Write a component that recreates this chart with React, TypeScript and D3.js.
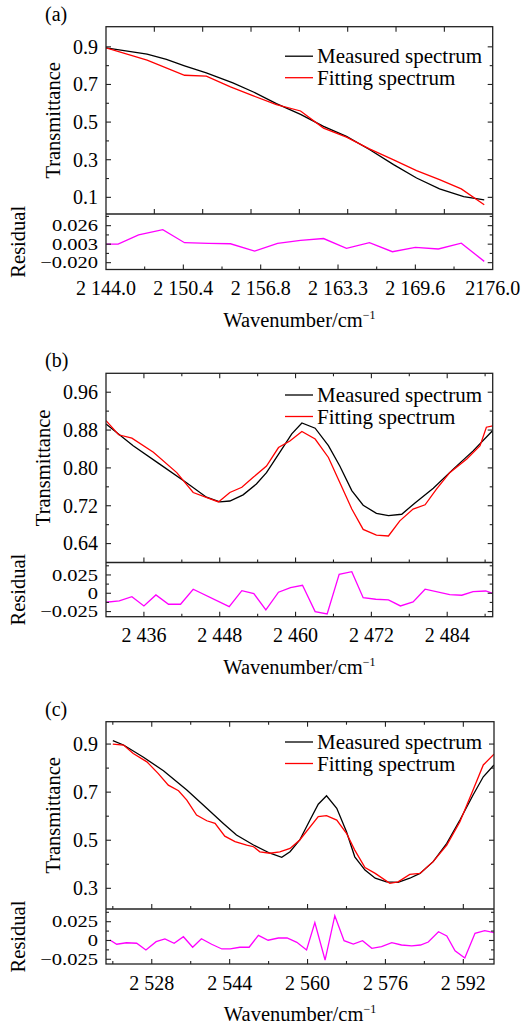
import React from "react";
import * as d3 from "d3";

// ---------------- Panel (a) data ----------------
const measuredAX = [2144.0, 2147.4, 2149.0, 2150.5, 2152.3, 2154.5, 2156.2, 2158.1, 2160.1, 2162.0, 2163.9, 2165.8, 2167.8, 2169.7, 2171.6, 2173.6, 2175.3];
const measuredAY = [0.895, 0.861, 0.833, 0.799, 0.761, 0.708, 0.66, 0.598, 0.541, 0.477, 0.424, 0.354, 0.274, 0.203, 0.145, 0.104, 0.086];
const fittingAX = [2144.0, 2147.4, 2150.5, 2152.3, 2154.3, 2156.2, 2158.1, 2160.1, 2162.0, 2163.9, 2165.8, 2167.8, 2169.7, 2171.6, 2173.4, 2175.3];
const fittingAY = [0.895, 0.829, 0.749, 0.744, 0.687, 0.639, 0.593, 0.559, 0.468, 0.42, 0.358, 0.299, 0.242, 0.194, 0.145, 0.061];
const residualAX = [2144.0, 2145.0, 2146.7, 2148.7, 2150.5, 2152.5, 2154.3, 2156.3, 2158.2, 2160.1, 2162.0, 2163.9, 2165.8, 2167.7, 2169.6, 2171.5, 2173.4, 2175.3];
const residualAY = [0.003, 0.003, 0.0146, 0.0211, 0.0048, 0.0039, 0.0035, -0.0056, 0.0039, 0.0078, 0.010, -0.0022, 0.0048, -0.0064, -0.0009, -0.003, 0.0043, -0.0184];
const xTickValuesA = [2144.0, 2150.4, 2156.8, 2163.2, 2169.6, 2176.0];
const xTickLabelsA = ["2 144.0", "2 150.4", "2 156.8", "2 163.3", "2 169.6", "2176.0"];
const xMinorA = [2147.2, 2153.6, 2160.0, 2166.4, 2172.8];
const xMainTicksA = [2148, 2152, 2156, 2160, 2164, 2168, 2172];
const yTickValuesA = [0.1, 0.3, 0.5, 0.7, 0.9];
const yTickLabelsA = ["0.1", "0.3", "0.5", "0.7", "0.9"];
const yMinorA = [0.2, 0.4, 0.6, 0.8];
const rTickValuesA = [0.026, 0.003, -0.020];
const rTickLabelsA = ["0.026", "0.003", "\u22120.020"];
const rMinorA = [0.0375, 0.0145, -0.0085];

// ---------------- Panel (b) data ----------------
const measuredBX = [2430.0, 2434.3, 2438.5, 2442.8, 2445.9, 2448.0, 2449.6, 2451.7, 2453.8, 2455.4, 2457.5, 2459.4, 2461.0, 2463.1, 2465.2, 2467.0, 2468.9, 2470.7, 2472.8, 2474.7, 2476.8, 2478.9, 2481.8, 2485.0, 2488.1, 2491.2];
const measuredBY = [0.893, 0.847, 0.808, 0.768, 0.738, 0.728, 0.73, 0.743, 0.766, 0.790, 0.833, 0.872, 0.895, 0.884, 0.847, 0.804, 0.752, 0.721, 0.704, 0.699, 0.702, 0.726, 0.757, 0.798, 0.836, 0.879];
const fittingBX = [2430.0, 2432.0, 2434.1, 2437.5, 2441.2, 2443.8, 2447.8, 2449.6, 2451.5, 2453.3, 2455.4, 2457.3, 2459.1, 2461.0, 2463.1, 2465.2, 2467.0, 2468.9, 2470.7, 2472.8, 2474.7, 2476.5, 2478.6, 2480.5, 2482.3, 2484.4, 2487.1, 2489.2, 2490.2, 2491.2];
const fittingBY = [0.900, 0.87, 0.863, 0.833, 0.79, 0.748, 0.728, 0.748, 0.759, 0.78, 0.804, 0.843, 0.857, 0.877, 0.861, 0.822, 0.769, 0.713, 0.670, 0.658, 0.656, 0.688, 0.713, 0.722, 0.755, 0.79, 0.819, 0.847, 0.886, 0.889];
const residualBX = [2430.0, 2432.1, 2434.1, 2436.0, 2437.9, 2439.9, 2441.8, 2443.8, 2449.5, 2451.5, 2453.4, 2455.3, 2457.3, 2459.2, 2461.1, 2463.1, 2465.0, 2466.9, 2468.9, 2470.7, 2472.7, 2474.7, 2476.6, 2478.6, 2480.5, 2484.4, 2486.3, 2488.1, 2490.1, 2491.2];
const residualBY = [-0.0123, -0.0105, -0.0046, -0.0173, -0.0023, -0.015, -0.015, 0.0055, -0.0182, 0.0036, -0.0005, -0.0228, 0.0014, 0.0077, 0.0109, -0.025, -0.0282, 0.0259, 0.0295, -0.006, -0.0082, -0.009, -0.0173, -0.0119, 0.0055, -0.0019, -0.0027, 0.0022, 0.0031, 0.0];
const xTickValuesB = [2436, 2448, 2460, 2472, 2484];
const xTickLabelsB = ["2 436", "2 448", "2 460", "2 472", "2 484"];
const xMinorB = [2442, 2454, 2466, 2478, 2490];
const yTickValuesB = [0.64, 0.72, 0.80, 0.88, 0.96];
const yTickLabelsB = ["0.64", "0.72", "0.80", "0.88", "0.96"];
const yMinorB = [0.68, 0.76, 0.84, 0.92];
const rTickValuesB = [0.025, 0, -0.025];
const rTickLabelsB = ["0.025", "0", "\u22120.025"];
const rMinorB = [0.0375, 0.0125, -0.0125];

// ---------------- Panel (c) data ----------------
const measuredCX = [2520.0, 2522.2, 2526.3, 2530.4, 2535.2, 2539.3, 2542.7, 2545.4, 2548.9, 2552.3, 2554.7, 2556.4, 2558.4, 2560.5, 2562.2, 2563.9, 2566.0, 2568.0, 2569.7, 2571.8, 2573.9, 2576.2, 2578.6, 2581.0, 2583.1, 2585.8, 2588.6, 2591.3, 2594.0, 2596.1, 2598.3];
const measuredCY = [0.914, 0.896, 0.845, 0.789, 0.709, 0.633, 0.570, 0.522, 0.48, 0.446, 0.429, 0.452, 0.501, 0.584, 0.65, 0.685, 0.633, 0.535, 0.431, 0.376, 0.342, 0.327, 0.325, 0.342, 0.362, 0.411, 0.487, 0.584, 0.688, 0.764, 0.813];
const fittingCX = [2520.0, 2522.2, 2524.2, 2527.0, 2529.3, 2531.4, 2533.5, 2535.2, 2537.2, 2539.3, 2541.0, 2543.0, 2545.1, 2547.5, 2548.9, 2550.2, 2552.3, 2554.3, 2556.4, 2558.4, 2562.2, 2563.9, 2566.0, 2568.0, 2569.7, 2571.8, 2573.9, 2576.9, 2578.6, 2581.0, 2583.1, 2585.8, 2588.6, 2591.3, 2594.0, 2596.1, 2598.3];
const fittingCY = [0.9, 0.896, 0.861, 0.826, 0.778, 0.729, 0.706, 0.667, 0.605, 0.581, 0.570, 0.517, 0.494, 0.48, 0.473, 0.452, 0.446, 0.452, 0.466, 0.501, 0.598, 0.602, 0.584, 0.529, 0.459, 0.386, 0.362, 0.321, 0.327, 0.358, 0.362, 0.411, 0.48, 0.577, 0.709, 0.813, 0.858];
const residualCX = [2519.4, 2520.8, 2522.8, 2524.9, 2526.8, 2528.9, 2530.7, 2532.6, 2534.5, 2536.4, 2538.2, 2540.3, 2542.4, 2544.1, 2546.1, 2548.0, 2549.9, 2551.9, 2554.0, 2555.8, 2557.8, 2559.8, 2561.5, 2563.6, 2565.6, 2567.5, 2569.4, 2571.3, 2573.2, 2575.2, 2577.3, 2579.3, 2581.4, 2583.2, 2584.8, 2586.9, 2588.6, 2590.3, 2592.3, 2594.4, 2596.4, 2598.3];
const residualCY = [0.0007, -0.005, -0.003, -0.0037, -0.0126, -0.0016, 0.002, -0.0037, 0.005, -0.009, 0.0024, -0.005, -0.0113, -0.0113, -0.009, -0.009, 0.0069, 0.0003, 0.0033, 0.0033, -0.0024, -0.0126, 0.0237, -0.026, 0.033, -0.0003, -0.0047, -0.0003, -0.0104, -0.0082, -0.003, -0.006, -0.0073, -0.006, -0.002, 0.0117, 0.006, -0.0136, -0.0233, 0.0096, 0.013, 0.0104];
const xTickValuesC = [2528, 2544, 2560, 2576, 2592];
const xTickLabelsC = ["2 528", "2 544", "2 560", "2 576", "2 592"];
const xMinorC = [2520, 2536, 2552, 2568, 2584];
const yTickValuesC = [0.3, 0.5, 0.7, 0.9];
const yTickLabelsC = ["0.3", "0.5", "0.7", "0.9"];
const yMinorC = [0.4, 0.6, 0.8];
const rTickValuesC = [0.025, 0, -0.025];
const rTickLabelsC = ["0.025", "0", "\u22120.025"];
const rMinorC = [0.0375, 0.0125, -0.0125];

const legendLabels = ["Measured spectrum", "Fitting spectrum"];
const FONT = "Liberation Serif";

type Panel = {
  label: string;
  left: number; right: number; top: number; mid: number; bottom: number;
  xDomain: [number, number];
  yDomain: [number, number];
  rDomain: [number, number];
  mx: number[]; my: number[]; fx: number[]; fy: number[]; rx: number[]; ry: number[];
  xTicks: number[]; xLabels: string[]; xMinor: number[]; mainXTicks: number[] | null;
  yTicks: number[]; yLabels: string[]; yMinor: number[];
  rTicks: number[]; rLabels: string[]; rMinor: number[];
  legendDy: number; yTitleX: number;
};

const panels: Panel[] = [
  {
    label: "(a)", left: 106, right: 492.7, top: 26.7, mid: 214, bottom: 269.5,
    xDomain: [2144, 2176], yDomain: [0.0115, 1.007], rDomain: [-0.0285, 0.0405],
    mx: measuredAX, my: measuredAY, fx: fittingAX, fy: fittingAY, rx: residualAX, ry: residualAY,
    xTicks: xTickValuesA, xLabels: xTickLabelsA, xMinor: xMinorA, mainXTicks: xMainTicksA,
    yTicks: yTickValuesA, yLabels: yTickLabelsA, yMinor: yMinorA,
    rTicks: rTickValuesA, rLabels: rTickLabelsA, rMinor: rMinorA,
    legendDy: 29.5, yTitleX: 60,
  },
  {
    label: "(b)", left: 106, right: 492.7, top: 373.3, mid: 562.5, bottom: 616.7,
    xDomain: [2430, 2491.2], yDomain: [0.6, 1.0], rDomain: [-0.032, 0.042],
    mx: measuredBX, my: measuredBY, fx: fittingBX, fy: fittingBY, rx: residualBX, ry: residualBY,
    xTicks: xTickValuesB, xLabels: xTickLabelsB, xMinor: xMinorB, mainXTicks: null,
    yTicks: yTickValuesB, yLabels: yTickLabelsB, yMinor: yMinorB,
    rTicks: rTickValuesB, rLabels: rTickLabelsB, rMinor: rMinorB,
    legendDy: 21.7, yTitleX: 50,
  },
  {
    label: "(c)", left: 106, right: 494, top: 721.7, mid: 909, bottom: 964,
    xDomain: [2518.6, 2598.3], yDomain: [0.214, 0.993], rDomain: [-0.0313, 0.0419],
    mx: measuredCX, my: measuredCY, fx: fittingCX, fy: fittingCY, rx: residualCX, ry: residualCY,
    xTicks: xTickValuesC, xLabels: xTickLabelsC, xMinor: xMinorC, mainXTicks: null,
    yTicks: yTickValuesC, yLabels: yTickLabelsC, yMinor: yMinorC,
    rTicks: rTickValuesC, rLabels: rTickLabelsC, rMinor: rMinorC,
    legendDy: 20.3, yTitleX: 60,
  },
];

const AXIS = "#222";
const MAJ = 5;
const MIN = 3;

// approximate Times advance width (em) of a numeric label
function emWidth(s: string): number {
  let w = 0;
  for (const ch of s) {
    if (ch === ".") w += 0.25;
    else if (ch === "\u2212") w += 0.564;
    else if (ch === " ") w += 0.25;
    else w += 0.5;
  }
  return w;
}

function T(props: any) {
  const { style, ...rest } = props;
  return <text {...rest} style={{ fontFamily: FONT, ...(style || {}) }} />;
}

function PanelView({ p, idx }: { p: Panel; idx: number }) {
  const x = d3.scaleLinear().domain(p.xDomain).range([p.left, p.right]);
  const y = d3.scaleLinear().domain(p.yDomain).range([p.mid, p.top]);
  const r = d3.scaleLinear().domain(p.rDomain).range([p.bottom, p.mid]);
  const lineMain = (xs: number[], ys: number[]) =>
    d3.line<number>().x((_, i) => x(xs[i])).y((_, i) => y(ys[i]))(xs) || "";
  const lineRes = d3.line<number>().x((_, i) => x(p.rx[i])).y((_, i) => r(p.ry[i]))(p.rx) || "";
  const clipMain = `clipMain${idx}`;
  const clipRes = `clipRes${idx}`;

  const mainXTickList: { v: number; len: number }[] = p.mainXTicks
    ? p.mainXTicks.map((v) => ({ v, len: MAJ }))
    : [...p.xTicks.map((v) => ({ v, len: MAJ })), ...p.xMinor.map((v) => ({ v, len: MIN }))];
  const resXTickList = [
    ...p.xTicks.filter((v) => v > p.xDomain[0] + 0.01 && v < p.xDomain[1] - 0.01).map((v) => ({ v, len: MAJ })),
    ...p.xMinor.map((v) => ({ v, len: MIN })),
  ];
  const yTickList = [...p.yTicks.map((v) => ({ v, len: MAJ })), ...p.yMinor.map((v) => ({ v, len: MIN }))];
  const rTickList = [...p.rTicks.map((v) => ({ v, len: MAJ })), ...p.rMinor.map((v) => ({ v, len: MIN }))];

  const legX1 = p.left + 179;
  const legX2 = p.left + 207;
  const legTextX = p.left + 211;
  const legY = p.top + p.legendDy;

  return (
    <g>
      <defs>
        <clipPath id={clipMain}>
          <rect x={p.left} y={p.top} width={p.right - p.left} height={p.mid - p.top} />
        </clipPath>
        <clipPath id={clipRes}>
          <rect x={p.left} y={p.mid} width={p.right - p.left} height={p.bottom - p.mid} />
        </clipPath>
      </defs>
      <T x={45} y={p.top - 6} fontSize={20}>{p.label}</T>

      <g clipPath={`url(#${clipMain})`}>
        <path d={lineMain(p.mx, p.my)} fill="none" stroke="#000" strokeWidth={1.3} />
        <path d={lineMain(p.fx, p.fy)} fill="none" stroke="#ff0000" strokeWidth={1.3} />
      </g>
      <g clipPath={`url(#${clipRes})`}>
        <path d={lineRes} fill="none" stroke="#ff00ff" strokeWidth={1.3} />
      </g>

      <rect x={p.left} y={p.top} width={p.right - p.left} height={p.bottom - p.top} fill="none" stroke={AXIS} strokeWidth={1.3} />
      <line x1={p.left} x2={p.right} y1={p.mid} y2={p.mid} stroke={AXIS} strokeWidth={1.3} />

      {mainXTickList.map((t, i) => (
        <g key={`mx${i}`}>
          <line x1={x(t.v)} x2={x(t.v)} y1={p.top} y2={p.top + t.len} stroke={AXIS} strokeWidth={1.1} />
          <line x1={x(t.v)} x2={x(t.v)} y1={p.mid} y2={p.mid - t.len} stroke={AXIS} strokeWidth={1.1} />
        </g>
      ))}
      {resXTickList.map((t, i) => (
        <line key={`rx${i}`} x1={x(t.v)} x2={x(t.v)} y1={p.bottom} y2={p.bottom - t.len} stroke={AXIS} strokeWidth={1.1} />
      ))}
      {yTickList.map((t, i) => (
        <g key={`my${i}`}>
          <line x1={p.left} x2={p.left + t.len} y1={y(t.v)} y2={y(t.v)} stroke={AXIS} strokeWidth={1.1} />
          <line x1={p.right} x2={p.right - t.len} y1={y(t.v)} y2={y(t.v)} stroke={AXIS} strokeWidth={1.1} />
        </g>
      ))}
      {rTickList.map((t, i) => (
        <g key={`ry${i}`}>
          <line x1={p.left} x2={p.left + t.len} y1={r(t.v)} y2={r(t.v)} stroke={AXIS} strokeWidth={1.1} />
          <line x1={p.right} x2={p.right - t.len} y1={r(t.v)} y2={r(t.v)} stroke={AXIS} strokeWidth={1.1} />
        </g>
      ))}

      {p.yTicks.map((v, i) => (
        <T key={`yl${i}`} x={p.left - 8} y={y(v)} dy="0.34em" textAnchor="end" fontSize={20}>{p.yLabels[i]}</T>
      ))}
      {p.rTicks.map((v, i) => (
        <T key={`rl${i}`} x={p.left - 8} y={r(v)} dy="0.34em" textAnchor="end" fontSize={17}
          textLength={emWidth(p.rLabels[i]) * 20.5} lengthAdjust="spacingAndGlyphs">{p.rLabels[i]}</T>
      ))}
      {p.xTicks.map((v, i) => (
        <T key={`xl${i}`} x={x(v)} y={p.bottom + 25.5} textAnchor="middle" fontSize={20}>{p.xLabels[i]}</T>
      ))}

      <T transform={`translate(${p.yTitleX},${(p.top + p.mid) / 2}) rotate(-90)`} textAnchor="middle" fontSize={20.5}>Transmittance</T>
      <T transform={`translate(25,${(p.mid + p.bottom) / 2}) rotate(-90)`} textAnchor="middle" fontSize={20.5}>Residual</T>
      <T x={(p.left + p.right) / 2} y={p.bottom + 57} textAnchor="middle" fontSize={20.5}>
        Wavenumber/cm<tspan fontSize={12} dy={-8}>{"\u22121"}</tspan>
      </T>

      <line x1={legX1} x2={legX2} y1={legY} y2={legY} stroke="#000" strokeWidth={1.3} />
      <T x={legTextX} y={legY + 7} fontSize={21}>{legendLabels[0]}</T>
      <line x1={legX1} x2={legX2} y1={legY + 21.5} y2={legY + 21.5} stroke="#ff0000" strokeWidth={1.3} />
      <T x={legTextX} y={legY + 28.5} fontSize={21}>{legendLabels[1]}</T>
    </g>
  );
}

export default function App() {
  return (
    <svg width={530} height={1027} style={{ position: "absolute", left: 0, top: 0, background: "#fff" }}>
      <rect x={0} y={0} width={530} height={1027} fill="#fff" />
      {panels.map((p, i) => (
        <PanelView key={i} p={p} idx={i} />
      ))}
    </svg>
  );
}
